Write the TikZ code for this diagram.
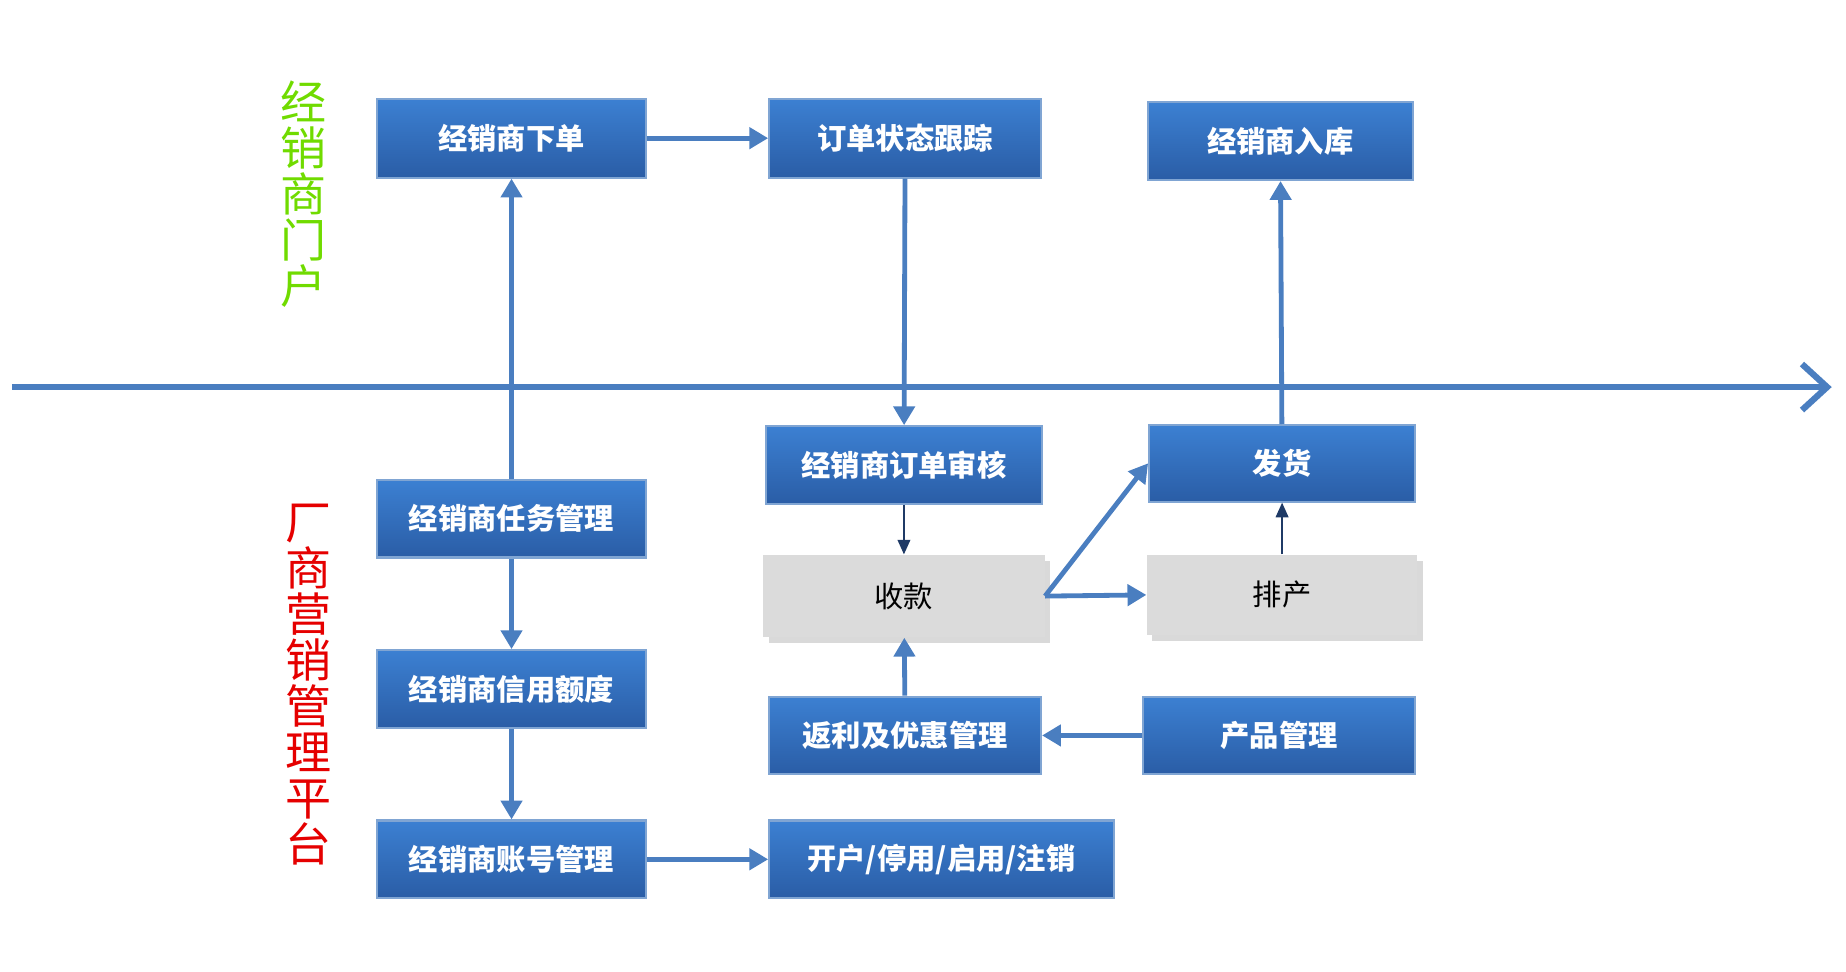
\documentclass[tikz,border=0pt]{standalone}
\usepackage{fontspec}
\setmainfont{Noto Sans CJK SC}
\usetikzlibrary{arrows.meta,shadows}
\definecolor{bt}{HTML}{3C80D2}
\definecolor{bb}{HTML}{2A5DA6}
\definecolor{ln}{HTML}{4A7EC0}
\definecolor{dk}{HTML}{1F3A66}
\begin{document}
\begin{tikzpicture}[x=0.02cm,y=-0.02cm,
 bx/.style={draw=ln!70!white,line width=1pt,top color=bt,bottom color=bb,text=white,font=\fontsize{14}{16}\selectfont\bfseries,inner sep=0pt},
 gx/.style={draw=none,fill=gray!28,font=\fontsize{14}{16}\selectfont,inner sep=0pt,drop shadow={opacity=0.3}},
 ar/.style={draw=ln,line width=2.3pt,-{Triangle[length=9pt,width=10pt]}},
 th/.style={draw=dk,line width=1pt,-{Triangle[length=7pt,width=6pt]}}]
\useasboundingbox (0,0) rectangle (1550,816);
\def\bxn#1#2#3#4#5#6{\node[#6,minimum width=#3*0.02cm-1pt,minimum height=#4*0.02cm-1pt] (#1) at (#2) {#5};}
\bxn{xd}{429.5,116}{227}{68}{经销商下单}{bx}
\bxn{zt}{760,116}{230}{68}{订单状态跟踪}{bx}
\bxn{rk}{1075,118.5}{224}{67}{经销商入库}{bx}
\bxn{sh}{759,390.5}{234}{67}{经销商订单审核}{bx}
\bxn{fh}{1076.5,389}{225}{66}{发货}{bx}
\bxn{rw}{429.5,435.5}{227}{67}{经销商任务管理}{bx}
\bxn{sk}{759,500.5}{238}{71}{收款}{gx}
\bxn{pc}{1076.5,499.5}{229}{69}{排产}{gx}
\bxn{xy}{429.5,578.5}{227}{67}{经销商信用额度}{bx}
\bxn{fl}{760,617.5}{230}{67}{返利及优惠管理}{bx}
\bxn{cp}{1074,617.5}{230}{67}{产品管理}{bx}
\bxn{zh}{429.5,721.5}{227}{67}{经销商账号管理}{bx}
\bxn{kh}{790.5,721.5}{291}{67}{开户/停用/启用/注销}{bx}
\node[text=green!60!olive!70!yellow,font=\fontsize{22}{26}\selectfont,align=center] (l1) at (255,163) {经\\[-4pt]销\\[-4pt]商\\[-4pt]门\\[-4pt]户};
\node[text=red!90!black,font=\fontsize{22}{26}\selectfont,align=center] (l2) at (259,575) {厂\\[-4pt]商\\[-4pt]营\\[-4pt]销\\[-4pt]管\\[-4pt]理\\[-4pt]平\\[-4pt]台};
\coordinate (a0) at (10,325); \coordinate (a1) at (1538,325);
\draw[draw=ln,line width=3pt,-{Straight Barb[length=12pt,width=22pt,line width=3pt]}] (a0) -- (a1);
\draw[ar] (xd) -- (zt);
\draw[ar] (rw) -- (xd);
\draw[ar] (rw) -- (xy);
\draw[ar] (xy) -- (zh);
\draw[ar] (zh) -- (kh);
\draw[ar] (zt) -- (sh);
\draw[th] (sh) -- (sk);
\draw[ar] (fl) -- (sk);
\draw[ar] (cp) -- (fl);
\draw[ar] (sk.east) -- (fh.west);
\draw[ar] (sk.east) -- (pc.west);
\draw[th] (pc) -- (fh);
\draw[ar] (fh) -- (rk);
\end{tikzpicture}
\end{document}
